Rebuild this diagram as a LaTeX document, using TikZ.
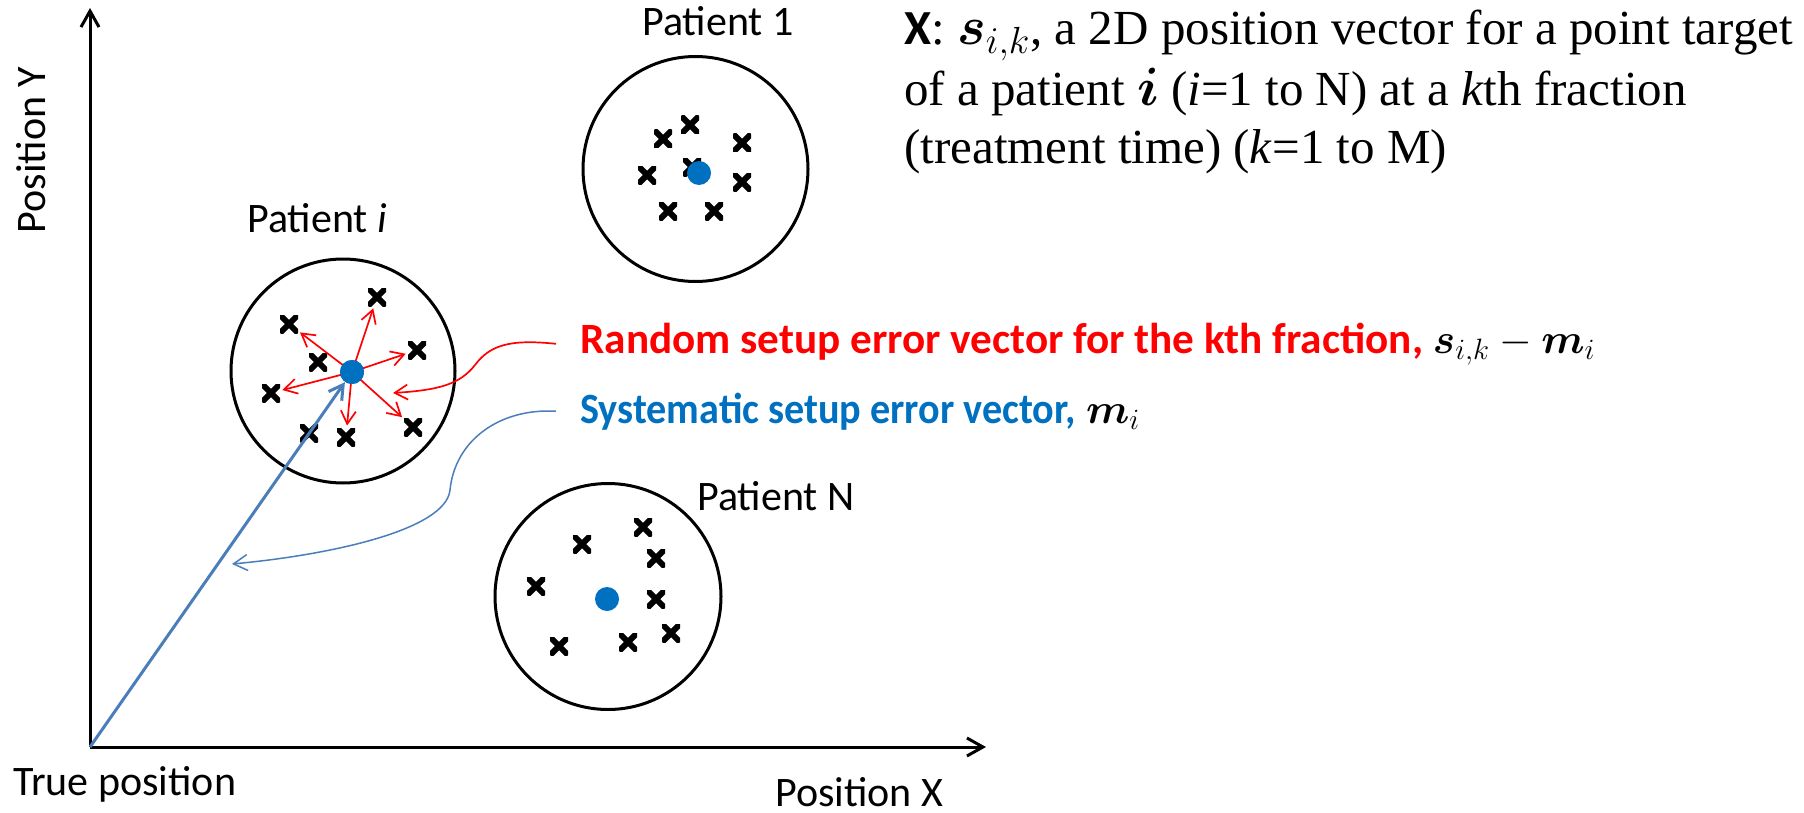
\documentclass[tikz,border=0pt]{standalone}
\usepackage{fix-cm}
\usepackage{amsmath}
\usepackage{bm}
\usepackage{fontspec}
\setmainfont{Liberation Serif}
\newfontfamily\calibri{Carlito}
\usetikzlibrary{arrows.meta}
\definecolor{dotblue}{HTML}{0070C0}
\definecolor{lineblue}{HTML}{4A7EBB}
\definecolor{errred}{HTML}{FF0000}

\newcommand{\vecmath}[1]{{\color{black}\fontsize{21pt}{21pt}\selectfont$#1$}}

\tikzset{
  patient/.style={circle, draw, line width=1.5pt, inner sep=0pt},
  meanpt/.style={circle, fill=dotblue, minimum size=12pt, inner sep=0pt},
  xmk/.style={minimum size=9pt, inner sep=0pt,
    path picture={\draw[line width=3pt]
      (path picture bounding box.south west) -- (path picture bounding box.north east)
      (path picture bounding box.north west) -- (path picture bounding box.south east);}},
  ax/.style={line width=1.5pt, -{Straight Barb[length=8pt,width=9pt]}},
  rvec/.style={errred, line width=0.85pt, -{Straight Barb[length=6.5pt,width=7.5pt]}},
  svec/.style={lineblue, line width=1.5pt, -{Straight Barb[length=7pt,width=8pt]}},
  callred/.style={errred, line width=0.85pt, -{Straight Barb[length=6.5pt,width=7.5pt]}},
  callblue/.style={lineblue, line width=0.75pt, -{Straight Barb[length=7pt,width=8pt]}},
  sanslbl/.style={font=\calibri\fontsize{21pt}{25pt}\selectfont, inner sep=0pt},
  boldlbl/.style={font=\calibri\bfseries\fontsize{21.6pt}{25pt}\selectfont, inner xsep=12pt, inner ysep=0pt, anchor=base west},
  serifline/.style={font=\fontsize{24.5pt}{27pt}\selectfont, inner sep=0pt, anchor=base west},
}

\begin{document}
\begin{tikzpicture}[x=0.5pt,y=-0.5pt]
\useasboundingbox (0,0) rectangle (1804,813);
\fill[white] (0,0) rectangle (1804,813);

% axes
\coordinate (O) at (90,747);
\coordinate (ytip) at (90,8);
\coordinate (xtip) at (986,747);
\draw[ax] (O) -- (ytip);
\draw[ax] (O) -- (xtip);
\node[sanslbl, rotate=90, anchor=base] (ylab) at (45,150) {Position Y};
\node[sanslbl, anchor=base west] (orilab) at (13,795) {True position};
\node[sanslbl, anchor=base west] (xlab) at (775,806) {Position X};

% patient i
\node[sanslbl, anchor=base west] (labI) at (247,232) {Patient \textit{i}};
\node[patient, minimum size=112pt] (pI) at (343,371) {};
\node[xmk] (a1) at (289,324) {};
\node[xmk] (a2) at (377,297) {};
\node[xmk] (a3) at (417,350) {};
\node[xmk] (a4) at (318,362) {};
\node[xmk] (a5) at (271,393) {};
\node[xmk] (a6) at (309,433) {};
\node[xmk] (a7) at (346,437) {};
\node[xmk] (a8) at (413,427) {};
\node[meanpt] (dotI) at (352,372) {};
\foreach \t in {a1,a2,a3,a5,a7,a8}
  \draw[rvec, shorten >=1pt] (dotI.center) -- (\t);
\node[meanpt] at (dotI) {};

% patient 1
\node[sanslbl, anchor=base west] (lab1) at (642,36) {Patient 1};
\node[patient, minimum size=112.5pt] (p1) at (695.5,169) {};
\node[xmk] (b1) at (690,125) {};
\node[xmk] (b2) at (663,139) {};
\node[xmk] (b3) at (742,143) {};
\node[xmk] (b4) at (647,175) {};
\node[xmk] (b5) at (692,167) {};
\node[xmk] (b6) at (742,182) {};
\node[xmk] (b7) at (668,211) {};
\node[xmk] (b8) at (714,211) {};
\node[meanpt] (dot1) at (699,173) {};

% patient N
\node[sanslbl, anchor=base west] (labN) at (697,510) {Patient N};
\node[patient, minimum size=113pt] (pN) at (608,596.5) {};
\node[xmk] (c1) at (643,527) {};
\node[xmk] (c2) at (582,544) {};
\node[xmk] (c3) at (656,558) {};
\node[xmk] (c4) at (536,586) {};
\node[xmk] (c5) at (656,599) {};
\node[xmk] (c6) at (671,633) {};
\node[xmk] (c7) at (628,642) {};
\node[xmk] (c8) at (559,646) {};
\node[meanpt] (dotN) at (607,599) {};

% systematic vector
\draw[svec] (O) -- (dotI);

% call-out labels
\node[boldlbl, text=errred] (rlab) at (556,353)
  {Random setup error vector for the kth fraction, \vecmath{\bm{s}_{i,k}-\bm{m}_i}};
\node[boldlbl, text=dotblue] (blab) at (556,423)
  {\scalebox{0.93}[1]{Systematic setup error vector,} \vecmath{\bm{m}_i}};
\coordinate (rtip) at (393,393);
\coordinate (btip) at (232,564);
\draw[callred]
  (rlab.west) .. controls (510,339) and (490,345) .. (475,365)
  .. controls (460,384) and (440,390) .. (rtip);
\draw[callblue]
  (blab.west) .. controls (500,408) and (455,440) .. (450,490)
  .. controls (446,530) and (330,555) .. (btip);

% definition text
\node[serifline] (t1) at (904,45)
  {{\calibri\bfseries X}: {\fontsize{27pt}{27pt}\selectfont$\bm{s}_{i,k}$}, a 2D position vector for a point target};
\node[serifline] (t2) at (904,105)
  {of a patient {\fontsize{27pt}{27pt}\selectfont$\bm{i}$} (\textit{i}=1 to N) at a \textit{k}th fraction};
\node[serifline] (t3) at (904,163)
  {(treatment time) (\textit{k}=1 to M)};
\end{tikzpicture}
\end{document}
